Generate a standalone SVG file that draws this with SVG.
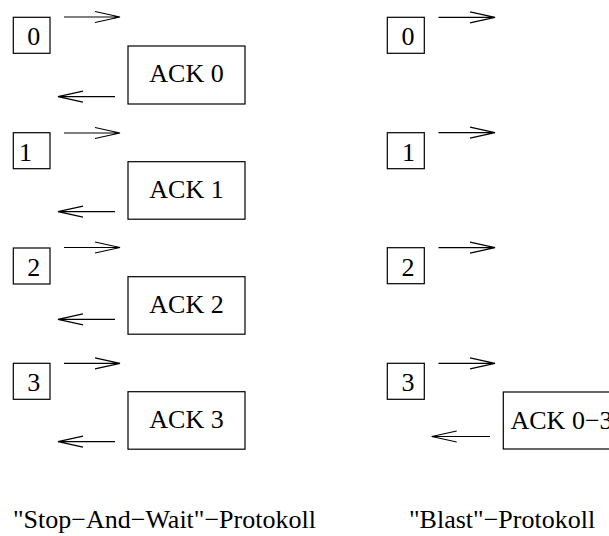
<svg xmlns="http://www.w3.org/2000/svg" width="609" height="536" viewBox="0 0 609 536">
<style>
.box{fill:none;stroke:#000;stroke-width:1.2}
.arr{fill:none;stroke:#000;stroke-width:1.2}
.c{text-anchor:middle}
</style>
<rect width="609" height="536" fill="#fff"/>
<g font-family="Liberation Serif, Times New Roman, DejaVu Serif, serif" font-size="26" fill="#000">
<g id="s0"><rect class="box" x="13.3" y="17.3" width="36.7" height="36"/><text x="27.3" y="45">0</text></g>
<g id="s1"><rect class="box" x="13.3" y="132.7" width="36.7" height="36"/><text x="19" y="160.7">1</text></g>
<g id="s2"><rect class="box" x="13.3" y="248" width="36.7" height="36"/><text x="27.3" y="276">2</text></g>
<g id="s3"><rect class="box" x="13.3" y="363.3" width="36.7" height="36"/><text x="27.3" y="391.3">3</text></g>
<g id="a0"><rect class="box" x="128" y="46" width="117" height="58"/><text class="c" x="186.5" y="82">ACK 0</text></g>
<g id="a1"><rect class="box" x="128" y="161.7" width="117" height="57.5"/><text class="c" x="186.5" y="197.7">ACK 1</text></g>
<g id="a2"><rect class="box" x="128" y="276.7" width="117" height="57.5"/><text class="c" x="186.5" y="312.7">ACK 2</text></g>
<g id="a3"><rect class="box" x="128" y="391.7" width="117" height="57.5"/><text class="c" x="186.5" y="427.7">ACK 3</text></g>
<g id="b0"><rect class="box" x="387.3" y="17.3" width="37" height="36"/><text x="401.5" y="45">0</text></g>
<g id="b1"><rect class="box" x="387.3" y="132.7" width="37" height="36"/><text x="402" y="160.7">1</text></g>
<g id="b2"><rect class="box" x="387.3" y="247.7" width="37" height="36"/><text x="401.5" y="275.7">2</text></g>
<g id="b3"><rect class="box" x="387.3" y="363.3" width="37" height="36"/><text x="401.5" y="391.3">3</text></g>
<g id="b4"><rect class="box" x="503.3" y="392" width="115" height="57"/><text x="510.5" y="429">ACK 0−3</text></g>
<text x="13" y="527.7">"Stop−And−Wait"−Protokoll</text>
<text x="409" y="527.7">"Blast"−Protokoll</text>
</g>
<g id="connectors">
<path class="arr" d="M64 17H120M95 11.5L120 17L95 22.5"/>
<path class="arr" d="M64 133H120M95 127.5L120 133L95 138.5"/>
<path class="arr" d="M64 247.5H120M95 242L120 247.5L95 253"/>
<path class="arr" d="M64 363.3H120M95 357.8L120 363.3L95 368.8"/>
<path class="arr" d="M115 96.7H58M83 91.2L58 96.7L83 102.2"/>
<path class="arr" d="M115 211.7H58M83 206.2L58 211.7L83 217.2"/>
<path class="arr" d="M115 319.3H58M83 313.8L58 319.3L83 324.8"/>
<path class="arr" d="M115 441.7H58M83 436.2L58 441.7L83 447.2"/>
<path class="arr" d="M438.5 17.3H495M470 11.8L495 17.3L470 22.8"/>
<path class="arr" d="M438.5 132.7H495M470 127.2L495 132.7L470 138.2"/>
<path class="arr" d="M438.5 247.7H495M470 242.2L495 247.7L470 253.2"/>
<path class="arr" d="M438.5 363.3H495M470 357.8L495 363.3L470 368.8"/>
<path class="arr" d="M490 436.5H431.7M456.7 431L431.7 436.5L456.7 442"/>
</g>
</svg>
